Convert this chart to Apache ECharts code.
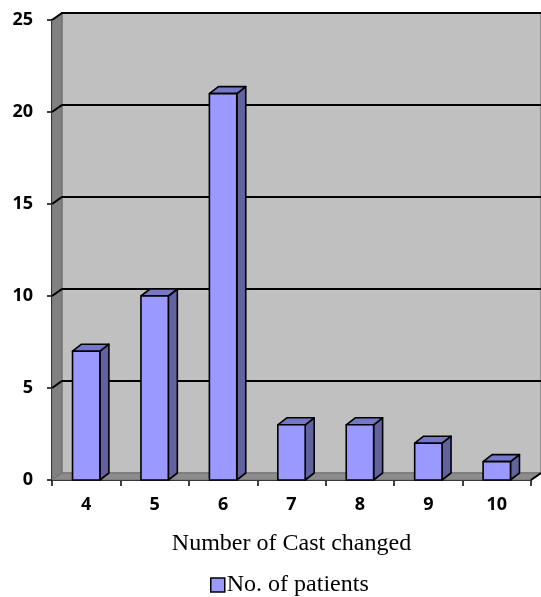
<!DOCTYPE html>
<html>
<head>
<meta charset="utf-8">
<script src="https://cdn.jsdelivr.net/npm/echarts@6/dist/echarts.min.js"></script>
<style>
  html, body { margin: 0; padding: 0; background: #ffffff; }
  #chart { width: 541px; height: 597px; }
</style>
</head>
<body>
<div id="chart"></div>
<script>
// Number of cast changes per patient
var categories = ['4', '5', '6', '7', '8', '9', '10'];
var patients = [7, 10, 21, 3, 3, 2, 1];
var yTicks = [5, 10, 15, 20, 25];

var seriesName = 'No. of patients';
var DEPTH_X = 10, DEPTH_Y = -7;      // wall depth offset
var BAR_DX = 9, BAR_DY = -7;         // bar depth offset

var chart = echarts.init(document.getElementById('chart'));

// Back wall, side wall, floor and the gridlines drawn on the walls
function renderWalls(params, api) {
  var cs = params.coordSys;
  var x = cs.x, y = cs.y, w = cs.width, h = cs.height;
  var children = [];
  children.push({
    type: 'polygon',
    shape: { points: [[x + DEPTH_X, y + DEPTH_Y], [x + w + DEPTH_X, y + DEPTH_Y],
                      [x + w + DEPTH_X, y + h + DEPTH_Y], [x + DEPTH_X, y + h + DEPTH_Y]] },
    style: { fill: '#c0c0c0', stroke: '#808080', lineWidth: 1.5 }
  });
  children.push({
    type: 'polygon',
    shape: { points: [[x, y], [x + DEPTH_X, y + DEPTH_Y], [x + DEPTH_X, y + h + DEPTH_Y], [x, y + h]] },
    style: { fill: '#808080', stroke: '#707070', lineWidth: 1 }
  });
  children.push({
    type: 'polygon',
    shape: { points: [[x, y + h], [x + DEPTH_X, y + h + DEPTH_Y], [x + w + DEPTH_X, y + h + DEPTH_Y], [x + w, y + h]] },
    style: { fill: '#8c8c8c', stroke: '#707070', lineWidth: 1 }
  });
  yTicks.forEach(function (v) {
    var py = api.coord([0, v])[1];
    children.push({
      type: 'polyline',
      shape: { points: [[x, py], [x + DEPTH_X, py + DEPTH_Y], [x + w + DEPTH_X, py + DEPTH_Y]] },
      style: { fill: null, stroke: '#000000', lineWidth: 2 }
    });
  });
  // right end of the floor edge
  children.push({
    type: 'line',
    shape: { x1: x + w, y1: y + h, x2: x + w + DEPTH_X, y2: y + h + DEPTH_Y },
    style: { stroke: '#000000', lineWidth: 2 }
  });
  return { type: 'group', children: children };
}

// 3D-looking column: front face, right side face and top face
function renderBar(params, api) {
  var top = api.coord([api.value(0), api.value(1)]);
  var base = api.coord([api.value(0), 0]);
  var bw = api.size([1, 0])[0] * 0.4;
  var l = top[0] - bw / 2, r = top[0] + bw / 2;
  var t = top[1], b = base[1];
  var edge = { stroke: '#000000', lineWidth: 1.6, lineJoin: 'round' };
  return {
    type: 'group',
    children: [
      { type: 'polygon',
        shape: { points: [[r, t], [r + BAR_DX, t + BAR_DY], [r + BAR_DX, b + BAR_DY], [r, b]] },
        style: Object.assign({ fill: '#62629e' }, edge) },
      { type: 'polygon',
        shape: { points: [[l, t], [l + BAR_DX, t + BAR_DY], [r + BAR_DX, t + BAR_DY], [r, t]] },
        style: Object.assign({ fill: '#7777c8' }, edge) },
      { type: 'rect',
        shape: { x: l, y: t, width: r - l, height: b - t },
        style: Object.assign({ fill: '#9999ff' }, edge) }
    ]
  };
}

var labelFont = { color: '#000000', fontFamily: 'Open Sans', fontWeight: 'bold', fontSize: 18 };

chart.setOption({
  animation: false,
  backgroundColor: '#ffffff',
  grid: { left: 52, right: 10, top: 20, bottom: 117 },
  legend: {
    top: 573,
    left: 210,
    itemWidth: 14,
    itemHeight: 14,
    itemGap: 10,
    padding: 0,
    data: [{ name: seriesName, icon: 'rect',
             itemStyle: { color: '#9999ff', borderColor: '#000000', borderWidth: 1.5 } }],
    textStyle: { color: '#000000', fontFamily: 'Liberation Serif', fontSize: 24, padding: [0, 0, 0, -3] }
  },
  xAxis: {
    type: 'category',
    data: categories,
    name: 'Number of Cast changed',
    nameLocation: 'middle',
    nameGap: 52,
    nameTextStyle: { color: '#000000', fontFamily: 'Liberation Serif', fontSize: 24 },
    axisLine: { lineStyle: { color: '#000000', width: 2 } },
    axisTick: { show: true, length: 6, lineStyle: { color: '#000000', width: 1.5 } },
    axisLabel: Object.assign({ margin: 16 }, labelFont),
    splitLine: { show: false }
  },
  yAxis: {
    type: 'value',
    min: 0,
    max: 25,
    interval: 5,
    axisLine: { show: true, lineStyle: { color: '#000000', width: 2 } },
    axisTick: { show: true, length: 5, lineStyle: { color: '#000000', width: 1.5 } },
    axisLabel: Object.assign({ margin: 19 }, labelFont),
    splitLine: { show: false }
  },
  series: [
    {
      type: 'custom',
      name: 'walls',
      silent: true,
      z: 1,
      renderItem: renderWalls,
      data: [[0, 0]]
    },
    {
      type: 'custom',
      name: seriesName,
      z: 3,
      renderItem: renderBar,
      encode: { x: 0, y: 1 },
      data: patients.map(function (v, i) { return [i, v]; })
    }
  ]
});
</script>
</body>
</html>
